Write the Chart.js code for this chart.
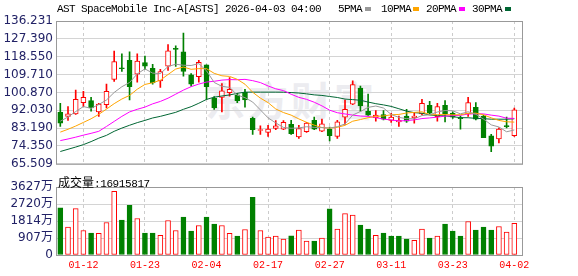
<!DOCTYPE html>
<html>
<head>
<meta charset="utf-8">
<script src="https://cdn.jsdelivr.net/npm/chart.js@4.4.1/dist/chart.umd.min.js"></script>
<style>
  body { margin: 0; background: #fff; width: 578px; height: 276px; overflow: hidden; position: relative; }
  canvas { position: absolute; left: 0; }
  .t { position: absolute; white-space: nowrap; font-family: "Liberation Mono", monospace; font-size: 11px; line-height: 11px; letter-spacing: -0.6px; color: #000; }
  .sq { position: absolute; top: 7px; width: 6px; height: 4px; }
  #wm { position: absolute; left: 205px; top: 70px; font: bold 40px "Noto Sans CJK SC"; color: #ececf0; letter-spacing: 3px; white-space: nowrap; }
</style>
</head>
<body>
<div id="wm">东方财富</div>
<canvas id="price" width="578" height="174" style="top:0"></canvas>
<canvas id="vol" width="578" height="102" style="top:174px"></canvas>
<div class="t" style="left:57px;top:4px">AST SpaceMobile Inc-A[ASTS] 2026-04-03 04:00</div>
<div class="t" style="left:338px;top:4px">5PMA</div><div class="sq" style="left:365px;background:#999999"></div>
<div class="t" style="left:381px;top:4px">10PMA</div><div class="sq" style="left:413px;background:#ffa500"></div>
<div class="t" style="left:426px;top:4px">20PMA</div><div class="sq" style="left:459px;background:#ff00ff"></div>
<div class="t" style="left:472px;top:4px">30PMA</div><div class="sq" style="left:505px;background:#006633"></div>
<div class="t" id="volLabel" style="left:58px;top:173px;letter-spacing:-0.4px"></div>
<script>
// trading days shown
const dates = ['01-07','01-08','01-09','01-12','01-13','01-14','01-15','01-16','01-20','01-21',
  '01-22','01-23','01-26','01-27','01-28','01-29','01-30','02-02','02-03','02-04',
  '02-05','02-06','02-09','02-10','02-11','02-12','02-13','02-17','02-18','02-19',
  '02-20','02-23','02-24','02-25','02-26','02-27','03-02','03-03','03-04','03-05',
  '03-06','03-09','03-10','03-11','03-12','03-13','03-16','03-17','03-18','03-19',
  '03-20','03-23','03-24','03-25','03-26','03-27','03-30','03-31','04-01','04-02'];

// daily OHLC
const opens  = [91.05, 88.94, 90.2, 95.8, 96.8, 91.2, 94.8, 107.3, 113.0, 116.7,
  109.9, 115.6, 112.8, 106.6, 113.8, 122.5, 121.0, 109.6, 108.6, 114.5,
  98.1, 98.4, 100.7, 99.7, 100.9, 88.0, 82.0, 81.1, 83.0, 82.7,
  85.0, 78.8, 81.4, 87.0, 81.7, 82.7, 79.1, 88.6, 95.1, 103.0,
  91.5, 88.3, 89.9, 87.0, 86.3, 89.2, 88.3, 90.2, 94.5, 88.9,
  94.5, 90.6, 88.1, 90.2, 93.5, 89.2, 79.4, 77.8, 84.2, 79.4];
const highs  = [95.5, 93.85, 102.0, 101.36, 98.4, 95.47, 104.95, 121.35, 120.0, 121.0,
  120.0, 118.9, 114.8, 112.3, 124.6, 123.95, 130.3, 110.2, 116.7, 114.5,
  98.76, 105.3, 108.2, 100.4, 102.35, 88.6, 84.3, 84.6, 86.97, 86.97,
  87.0, 84.6, 86.0, 88.6, 87.6, 83.7, 87.0, 97.09, 106.6, 103.96,
  100.04, 91.9, 91.9, 90.56, 89.2, 92.5, 90.9, 97.43, 96.45, 95.47,
  96.8, 91.2, 89.2, 98.4, 95.8, 89.6, 80.1, 83.3, 88.6, 93.16];
const lows   = [84.0, 86.97, 90.0, 93.85, 91.54, 88.94, 93.16, 106.27, 111.2, 97.09,
  105.93, 112.2, 104.95, 103.3, 111.8, 113.79, 108.9, 103.96, 105.9, 97.43,
  92.5, 91.2, 99.05, 95.8, 93.5, 80.1, 80.1, 79.1, 82.36, 82.36,
  80.1, 78.1, 81.1, 82.4, 81.4, 76.8, 78.1, 85.0, 94.8, 91.54,
  89.5, 86.63, 87.3, 85.99, 84.0, 85.99, 85.65, 89.9, 90.2, 86.63,
  86.3, 88.0, 82.7, 88.94, 87.3, 78.4, 71.55, 75.8, 83.3, 79.1];
const closes = [85.65, 90.21, 97.4, 98.4, 93.2, 95.1, 101.4, 116.1, 112.6, 103.7,
  116.4, 113.8, 105.6, 111.2, 121.4, 122.2, 111.2, 105.0, 115.8, 103.7,
  93.2, 101.7, 102.4, 96.8, 97.2, 82.4, 82.2, 82.7, 84.3, 86.0,
  80.4, 83.0, 85.7, 82.7, 85.3, 79.4, 86.3, 92.5, 104.7, 94.2,
  89.6, 89.6, 87.6, 88.6, 87.0, 86.6, 89.2, 95.5, 90.6, 93.9,
  90.2, 88.6, 87.9, 95.8, 87.6, 78.4, 74.2, 82.7, 83.9, 92.2];

// moving average lines
const ma5  = [86.6, 88.7, 91.4, 93.85, 92.97, 94.86, 97.1, 100.84, 103.68, 105.78,
  110.04, 112.52, 110.42, 110.14, 113.68, 114.84, 114.32, 114.2, 115.12, 111.58,
  105.78, 103.88, 103.36, 99.56, 98.26, 96.1, 92.2, 88.26, 85.76, 83.52,
  83.12, 83.28, 83.88, 83.56, 83.42, 83.22, 83.88, 85.24, 89.64, 91.42,
  93.46, 94.12, 93.14, 89.92, 88.48, 87.88, 87.8, 89.38, 89.78, 91.16,
  91.88, 91.76, 90.24, 91.28, 90.02, 87.66, 84.78, 83.74, 81.36, 82.28];
const ma10 = [81.2, 82.6, 84.2, 86.0, 87.8, 90.0, 92.6, 95.3, 97.6, 99.38,
  102.45, 104.81, 105.63, 106.91, 109.73, 112.44, 113.42, 112.31, 112.63, 112.63,
  110.31, 109.1, 108.78, 107.34, 104.92, 100.94, 98.04, 95.81, 92.66, 90.89,
  89.61, 87.74, 86.07, 84.66, 83.47, 83.17, 83.58, 84.56, 86.6, 87.42,
  88.34, 89.0, 89.19, 89.78, 89.95, 90.67, 90.96, 91.26, 89.85, 89.82,
  89.88, 89.78, 89.81, 90.53, 90.59, 89.77, 88.27, 86.99, 86.32, 86.15];
const ma20 = [77.0, 77.8, 78.7, 79.7, 80.6, 81.6, 84.0, 86.5, 89.0, 91.2,
  92.5, 93.6, 95.2, 96.4, 98.0, 100.0, 102.0, 103.7, 105.0, 106.0,
  106.38, 106.96, 107.21, 107.13, 107.33, 106.69, 105.73, 104.06, 102.65, 101.76,
  99.96, 98.42, 97.43, 96.0, 94.2, 92.06, 90.81, 90.19, 89.63, 89.16,
  88.98, 88.37, 87.63, 87.22, 86.71, 86.92, 87.27, 87.91, 88.23, 88.62,
  89.11, 89.39, 89.5, 90.16, 90.27, 90.22, 89.61, 89.13, 88.09, 87.99];
const ma30 = [71.6, 72.7, 73.8, 75.0, 76.5, 78.2, 79.6, 81.6, 83.2, 84.6,
  85.9, 87.0, 88.2, 89.0, 90.0, 91.0, 92.5, 93.8, 95.5, 97.4,
  98.5, 99.1, 99.6, 100.4, 101.0, 101.0, 101.0, 101.0, 101.0, 100.97,
  100.79, 100.55, 100.16, 99.64, 99.37, 98.85, 98.35, 97.56, 97.3, 96.98,
  96.09, 95.28, 94.68, 93.93, 92.78, 91.59, 90.86, 90.54, 89.7, 89.38,
  89.28, 88.84, 88.36, 88.32, 88.0, 87.87, 87.6, 87.6, 87.59, 87.8];

// volume (shares) and its colour flag (1 = up/red, 0 = down/green)
const volumes = [25120000, 14860000, 24770000, 13090000, 11680000, 11500000, 17340000, 33970000, 18570000, 26540000,
  19460000, 11680000, 11680000, 10440000, 18400000, 13090000, 20170000, 12740000, 15740000, 20170000,
  16450000, 15740000, 11500000, 10080000, 13620000, 30780000, 13090000, 9550000, 10080000, 8490000,
  10260000, 13270000, 7430000, 7430000, 9020000, 24590000, 13800000, 22110000, 21230000, 15920000,
  13800000, 10440000, 11680000, 10080000, 10080000, 8490000, 7780000, 13800000, 9020000, 10080000,
  16450000, 12740000, 10080000, 17870000, 13270000, 14860000, 13270000, 15210000, 12210000, 16915817];
const volUp = [0,1,1,1,0,1,1,1,0,0, 1,0,0,1,1,1,0,0,1,0, 0,1,1,0,1,0,1,1,1,1,
  0,1,1,0,1,0,1,1,1,0, 0,1,0,0,0,0,1,1,0,1, 0,0,0,1,0,0,0,1,1,1];

const priceTicks = [65.509, 74.350, 83.190, 92.030, 100.870, 109.710, 118.550, 127.390, 136.231];
const volTicks = [0, 9067500, 18135000, 27202500, 36270000];
const dateTicks = ['01-12','01-23','02-04','02-17','02-27','03-11','03-23','04-02'];

const RED = '#ff0000', GREEN = '#008000';
const up = closes.map((c, i) => c >= opens[i]);
const xIdx = dateTicks.map(d => dates.indexOf(d));
const axisFont = { family: "'DejaVu Sans', 'Noto Sans CJK SC'", size: 12 };

document.getElementById('volLabel').innerHTML =
  '<span style="font:12px \'Noto Sans CJK SC\';letter-spacing:0">成交量</span>:' + volumes[volumes.length - 1];

// grey box round each plot area
const frame = {
  id: 'frame',
  afterDraw(chart) {
    const a = chart.chartArea, ctx = chart.ctx;
    ctx.save();
    ctx.strokeStyle = '#999999';
    ctx.lineWidth = 1;
    ctx.strokeRect(a.left + 0.5, a.top + 0.5, a.right - a.left, a.bottom - a.top);
    ctx.restore();
  }
};

function xAxis(showLabels) {
  return {
    type: 'linear', min: -0.56, max: 60, offset: false,
    grid: { offset: false, color: '#cccccc', drawTicks: false },
    border: { display: false, dash: [3, 3] },
    afterBuildTicks: s => { s.ticks = xIdx.map(v => ({ value: v })); },
    afterFit: s => { s.height = showLabels ? 21 : 0; },
    ticks: {
      display: showLabels, autoSkip: false, maxRotation: 0, padding: 4,
      color: RED, font: { family: "'Liberation Mono'", size: 10 },
      callback: v => dates[v]
    }
  };
}

function maLine(values, color) {
  return {
    type: 'line', data: values.map((v, i) => ({ x: i, y: v })),
    borderColor: color, borderWidth: 1, pointRadius: 0, tension: 0, order: 0
  };
}

new Chart(document.getElementById('price'), {
  type: 'bar',
  data: {
    datasets: [
      maLine(ma5, '#999999'),
      maLine(ma10, '#ffa500'),
      maLine(ma20, '#ff00ff'),
      maLine(ma30, '#006633'),
      {
        data: opens.map((o, i) => ({ x: i, y: [o, closes[i]] })),
        backgroundColor: up.map(u => u ? '#ffffff' : GREEN),
        borderColor: up.map(u => u ? RED : GREEN),
        borderWidth: 1, borderSkipped: false, barThickness: 5, minBarLength: 1,
        grouped: false, order: 1
      },
      {
        data: lows.map((l, i) => ({ x: i, y: [l, highs[i]] })),
        backgroundColor: up.map(u => u ? RED : GREEN),
        barThickness: 1, grouped: false, order: 2
      }
    ]
  },
  options: {
    responsive: false, animation: false, devicePixelRatio: 1, events: [],
    layout: { padding: { top: 21, right: 56, bottom: 9, left: 0 } },
    plugins: { legend: { display: false }, tooltip: { enabled: false } },
    scales: {
      x: xAxis(false),
      y: {
        min: 65.509, max: 136.231, beginAtZero: false,
        afterBuildTicks: s => { s.ticks = priceTicks.map(v => ({ value: v })); },
        afterFit: s => { s.width = 56; },
        grid: { color: '#d4d4d4', drawTicks: false },
        border: { display: false },
        ticks: { autoSkip: false, padding: 3, color: '#222266', font: axisFont, callback: v => v.toFixed(3) }
      }
    }
  },
  plugins: [frame]
});

new Chart(document.getElementById('vol'), {
  type: 'bar',
  data: {
    datasets: [{
      data: volumes.map((v, i) => ({ x: i, y: v })),
      backgroundColor: volUp.map(u => u ? '#ffffff' : GREEN),
      borderColor: volUp.map(u => u ? RED : GREEN),
      borderWidth: 1, borderSkipped: false, barThickness: 5, grouped: false
    }]
  },
  options: {
    responsive: false, animation: false, devicePixelRatio: 1, events: [],
    layout: { padding: { top: 13, right: 56, bottom: 0, left: 0 } },
    plugins: { legend: { display: false }, tooltip: { enabled: false } },
    scales: {
      x: xAxis(true),
      y: {
        min: 0, max: 36270000,
        afterBuildTicks: s => { s.ticks = volTicks.map(v => ({ value: v })); },
        afterFit: s => { s.width = 56; },
        grid: { color: '#d4d4d4', drawTicks: false },
        border: { display: false },
        ticks: {
          autoSkip: false, padding: 3, color: '#222266', font: axisFont,
          callback: v => v === 0 ? '0' : Math.round(v / 10000) + '万'
        }
      }
    }
  },
  plugins: [frame]
});
</script>
</body>
</html>
